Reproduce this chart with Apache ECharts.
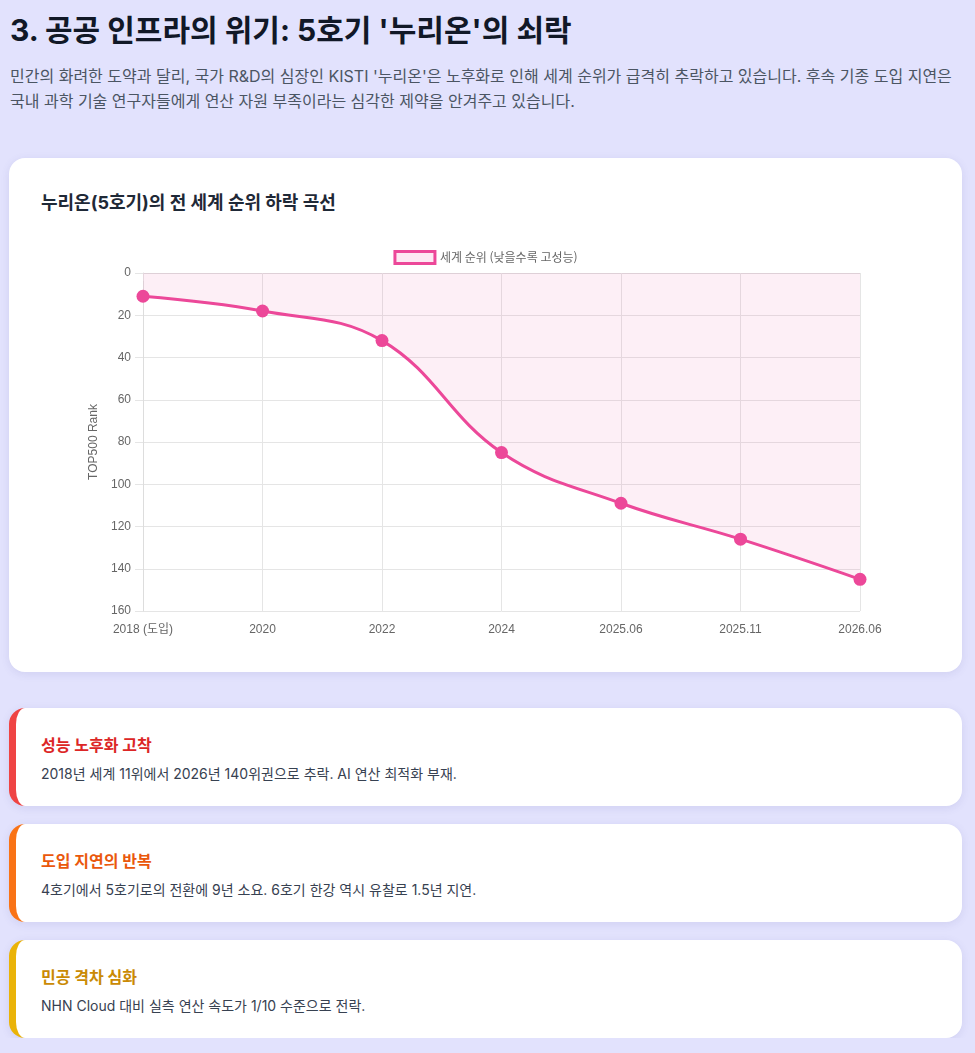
<!DOCTYPE html>
<html lang="ko">
<head>
<meta charset="utf-8">
<title>누리온 순위 하락</title>
<script src="https://cdn.jsdelivr.net/npm/echarts@6/dist/echarts.min.js"></script>
<style>
  html, body { margin: 0; padding: 0; }
  body {
    background: #e2e2fd;
    font-family: Inter, "Noto Sans CJK KR", "Noto Sans", sans-serif;
    color: #1f2937;
    padding: 0 13px 0 9px;
  }
  h2 {
    margin: 0;
    padding-top: 10px;
    font-size: 30px;
    font-weight: 700;
    color: #111827;
    line-height: 40px;
    padding-left: 1px;
  }
  p.lead {
    margin: 14px 0 0 1px;
    font-size: 16px;
    line-height: 25px;
    color: #4b5563;
  }
  .card {
    background: #fff;
    border-radius: 16px;
    box-shadow: 0 2px 8px rgba(80, 80, 160, 0.12);
  }
  .chart-card {
    margin-top: 44px;
    height: 514px;
    padding: 0 32px;
    box-sizing: border-box;
  }
  .chart-card h3 {
    margin: 0;
    padding-top: 33px;
    font-size: 18px;
    font-weight: 700;
    color: #1f2937;
    line-height: 24px;
  }
  #main { width: 889px; height: 410px; margin-top: 21px; }
  .note {
    margin-top: 18px;
    height: 98px;
    border-left: 7px solid #ef4444;
    padding: 26px 0 0 25px;
    box-sizing: border-box;
  }
  .note h4 { margin: 0; font-size: 16px; font-weight: 700; line-height: 22px; }
  .note div { margin-top: 8px; font-size: 14px; line-height: 20px; color: #374151; }
  .red { border-left-color: #ef4444; } .red h4 { color: #dc2626; }
  .orange { border-left-color: #f97316; } .orange h4 { color: #ea580c; }
  .yellow { border-left-color: #eab308; } .yellow h4 { color: #ca8a04; }
</style>
</head>
<body>
<h2>3. 공공 인프라의 위기: 5호기 '누리온'의 쇠락</h2>
<p class="lead">민간의 화려한 도약과 달리, 국가 R&amp;D의 심장인 KISTI '누리온'은 노후화로 인해 세계 순위가 급격히 추락하고 있습니다. 후속 기종 도입 지연은 국내 과학 기술 연구자들에게 연산 자원 부족이라는 심각한 제약을 안겨주고 있습니다.</p>

<div class="card chart-card">
  <h3>누리온(5호기)의 전 세계 순위 하락 곡선</h3>
  <div id="main"></div>
</div>

<div class="card note red" style="margin-top:36px">
  <h4>성능 노후화 고착</h4>
  <div>2018년 세계 11위에서 2026년 140위권으로 추락. AI 연산 최적화 부재.</div>
</div>
<div class="card note orange">
  <h4>도입 지연의 반복</h4>
  <div>4호기에서 5호기로의 전환에 9년 소요. 6호기 한강 역시 유찰로 1.5년 지연.</div>
</div>
<div class="card note yellow">
  <h4>민공 격차 심화</h4>
  <div>NHN Cloud 대비 실측 연산 속도가 1/10 수준으로 전락.</div>
</div>

<script>
// 시점별 TOP500 순위
var periods = ['2018 (도입)', '2020', '2022', '2024', '2025.06', '2025.11', '2026.06'];
var ranks = [11, 18, 32, 85, 109, 126, 145];
var seriesName = '세계 순위 (낮을수록 고성능)';

var myChart = echarts.init(document.getElementById('main'));
var axisFont = 'Liberation Sans, Arial, Noto Sans CJK KR, sans-serif';
myChart.setOption({
  animation: false,
  legend: {
    top: 9,
    left: 'center',
    itemWidth: 40,
    itemHeight: 12,
    icon: 'rect',
    textStyle: { color: '#666', fontSize: 12, fontFamily: 'Noto Sans CJK KR, sans-serif' },
    itemStyle: { color: 'rgba(236,72,153,0.12)', borderColor: '#ec4899', borderWidth: 3 }
  },
  grid: { left: 102, right: 70, top: 37, bottom: 35, containLabel: false },
  xAxis: {
    type: 'category',
    data: periods,
    boundaryGap: false,
    axisLine: { lineStyle: { color: '#ddd' } },
    axisTick: { show: true, length: 8, lineStyle: { color: '#e5e5e5' } },
    axisLabel: { color: '#666', fontSize: 12, fontFamily: axisFont, margin: 13 },
    splitLine: { show: true, lineStyle: { color: '#e5e5e5' } }
  },
  yAxis: {
    type: 'value',
    inverse: true,
    min: 0,
    max: 160,
    interval: 20,
    name: 'TOP500 Rank',
    nameLocation: 'middle',
    nameGap: 40,
    nameTextStyle: { color: '#666', fontSize: 12, fontFamily: axisFont },
    axisLine: { show: true, lineStyle: { color: '#ddd' } },
    axisTick: { show: true, length: 8, lineStyle: { color: '#e5e5e5' } },
    axisLabel: { color: '#666', fontSize: 12, fontFamily: axisFont, margin: 12 },
    splitLine: { show: true, lineStyle: { color: '#e5e5e5' } }
  },
  series: [{
    name: seriesName,
    type: 'line',
    data: ranks,
    smooth: 0.4,
    symbol: 'circle',
    symbolSize: 13,
    lineStyle: { color: '#ec4899', width: 3 },
    itemStyle: { color: '#ec4899' },
    areaStyle: { color: 'rgba(236,72,153,0.12)', origin: 'start' }
  }]
});
</script>
</body>
</html>
